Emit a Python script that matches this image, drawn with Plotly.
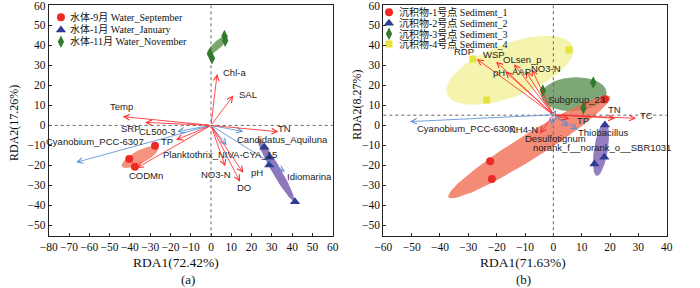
import numpy as np
import plotly.graph_objects as go

# ---------------- Panel (a): water samples ----------------
A_SEP_X = [-27.6, -40.3, -37.5]
A_SEP_Y = [-10.2, -16.8, -20.7]
A_JAN_X = [26.3, 28.7, 28.7, 41.4]
A_JAN_Y = [-11.0, -16.0, -19.8, -38.2]
A_NOV_X = [-0.5, 0.5, 6.6, 7.0]
A_NOV_Y = [35.7, 33.6, 44.7, 42.4]

A_ENV = ["Chl-a", "SAL", "Temp", "SRP", "TP", "CODMn", "NO3-N", "pH", "DO", "TN"]
A_ENV_X = [3.0, 11.0, -43.5, -32.5, -17.2, -36.6, 7.0, 15.9, 14.3, 33.2]
A_ENV_Y = [25.7, 14.9, 4.4, 1.5, -7.3, -21.3, -20.5, -23.7, -28.2, -3.2]

A_SPE = ["Cyanobium_PCC-6307", "CL500-3", "Planktothrix_NIVA-CYA_15",
         "Candidatus_Aquiluna", "Idiomarina"]
A_SPE_X = [-66.5, -16.6, 7.7, 15.9, 36.5]
A_SPE_Y = [-18.5, -3.1, -10.0, -3.1, -23.2]

# ---------------- Panel (b): sediment samples ----------------
B_S1_X = [18.2, -22.3, -21.7]
B_S1_Y = [13.1, -18.0, -26.8]
B_S2_X = [18.2, 14.5, 18.0]
B_S2_Y = [0.2, -19.3, -16.0]
B_S3_X = [-3.7, 14.1, 10.6]
B_S3_Y = [17.4, 21.4, 8.6]
B_S4_X = [-28.4, -23.5, 5.5]
B_S4_Y = [33.2, 12.7, 37.7]

B_ENV = ["RDP", "WSP", "OLsen_p", "NO3-N", "pH", "AAP", "TN", "TC", "TP", "NH4-N"]
B_ENV_X = [-27.0, -20.2, -13.9, -7.6, -17.0, -9.8, 21.8, 29.2, 5.6, -4.7]
B_ENV_Y = [33.2, 31.9, 30.6, 28.1, 27.0, 27.2, 3.55, 3.55, 3.2, -4.0]

B_SPE = ["Cyanobium_PCC-6307", "Subgroup_23", "Thiobacillus", "Desulfotignum",
         "norank_f__norank_o__SBR1031"]
B_SPE_X = [-50.6, 1.0, 8.6, -0.6, 5.3]
B_SPE_Y = [1.9, 7.7, -2.0, 0.2, -0.6]

B_ORIGIN = (0.0, 5.3)   # arrow origin in panel (b) as drawn

LEG_A = [("水体-9月", "Water_September"), ("水体-1月", "Water_January"),
         ("水体-11月", "Water_November")]
LEG_B = [("沉积物-1号点", "Sediment_1"), ("沉积物-2号点", "Sediment_2"),
         ("沉积物-3号点", "Sediment_3"), ("沉积物-4号点", "Sediment_4")]

# ---------------- styles / layout helpers ----------------
RED = "#ee2a24"
BLUE = "#2e3d92"
GREEN = "#2f7a2c"
YELLOW = "#e6e43c"
ARROW_RED = "#ff2a2a"
ARROW_BLUE = "#5b8fd6"
SERIF = "Liberation Serif"
SANS = "Liberation Sans"
LEGFONT = "Liberation Serif, Noto Sans CJK SC"

# label placements (layout, not data)
A_ENV_LAB = [(11.4, 26.4), (18.1, 15.6), (-43.9, 9.4), (-39.3, -1.4), (-21.7, -8.2),
             (-32.0, -25.2), (2.4, -24.8), (22.9, -23.8), (16.3, -31.0), (36.3, -1.5)]
A_SPE_LAB = [(-57.2, -8.2), (-26.8, -3.2), (4.4, -14.8), (35.4, -7.3), (48.5, -25.5)]
B_ENV_LAB = [(-31.4, 36.9), (-20.9, 35.7), (-10.9, 33.1), (-2.6, 28.6), (-19.2, 26.4),
             (-11.3, 26.9), (21.7, 8.1), (33.0, 4.9), (10.5, 2.2), (-10.4, -2.3)]
B_SPE_LAB = [(-30.7, -1.5), (8.1, 13.1), (17.5, -3.7), (0.8, -6.5), (17.3, -11.3)]

# ellipses: center, semi-diameter A, semi-diameter B (data units), colour
A_ELL = [((-35.0, -15.8), (8.9, 4.75), (1.5, -2.9), "rgba(242,128,105,0.85)"),
         ((32.0, -22.2), (8.9, -15.6), (1.9, 1.15), "rgba(130,105,180,0.9)"),
         ((3.2, 40.2), (5.0, 4.6), (1.3, -1.45), "rgba(110,160,90,0.9)")]
B_ELL = [((-15.3, 27.6), (22.2, 12.0), (3.35, -12.4), "rgba(238,236,120,0.6)"),
         ((7.3, 15.6), (11.5, 0.6), (0.0, 8.5), "rgba(70,130,60,0.7)"),
         ((-8.5, -10.8), (28.5, 25.2), (2.2, -5.4), "rgba(240,110,85,0.8)"),
         ((16.8, -11.9), (1.5, 13.4), (2.4, -0.55), "rgba(130,105,185,0.85)")]

fig = go.Figure()


def ellipse(c, a, b, color, xa, ya):
    t = np.linspace(0, 2 * np.pi, 120)
    xs = c[0] + a[0] * np.cos(t) + b[0] * np.sin(t)
    ys = c[1] + a[1] * np.cos(t) + b[1] * np.sin(t)
    fig.add_trace(go.Scatter(x=xs, y=ys, mode="lines", fill="toself",
                             fillcolor=color, line=dict(width=0),
                             xaxis=xa, yaxis=ya, hoverinfo="skip", showlegend=False))


for e in A_ELL:
    ellipse(*e, "x", "y")
for e in B_ELL:
    ellipse(*e, "x2", "y2")

# zero lines
for xr, yr, y0 in (("x", "y", 0.0), ("x2", "y2", 5.1)):
    fig.add_shape(type="line", xref=f"{xr} domain", yref=yr, x0=0, x1=1, y0=y0, y1=y0,
                  line=dict(color="#666", width=1, dash="dot"))
    fig.add_shape(type="line", xref=xr, yref=f"{yr} domain", x0=0, x1=0, y0=0, y1=1,
                  line=dict(color="#666", width=1, dash="dot"))


def arrows(xs, ys, labels, labpos, color, origin, xr, yr):
    for x, y in zip(xs, ys):
        fig.add_annotation(x=x, y=y, ax=origin[0], ay=origin[1], xref=xr, yref=yr,
                           axref=xr, ayref=yr, text="", showarrow=True,
                           arrowhead=5, arrowsize=1.3, arrowwidth=0.85,
                           arrowcolor=color, standoff=0, startstandoff=0)
    for lab, (lx, ly) in zip(labels, labpos):
        fig.add_annotation(x=lx, y=ly, xref=xr, yref=yr, text=lab, showarrow=False,
                           font=dict(family=SANS, size=9.5, color="#222"),
                           xanchor="center", yanchor="middle")


arrows(A_SPE_X, A_SPE_Y, A_SPE, A_SPE_LAB, ARROW_BLUE, (0, 0), "x", "y")
arrows(A_ENV_X, A_ENV_Y, A_ENV, A_ENV_LAB, ARROW_RED, (0, 0), "x", "y")
arrows(B_SPE_X, B_SPE_Y, B_SPE, B_SPE_LAB, ARROW_BLUE, B_ORIGIN, "x2", "y2")
arrows(B_ENV_X, B_ENV_Y, B_ENV, B_ENV_LAB, ARROW_RED, B_ORIGIN, "x2", "y2")


def pts(x, y, sym, color, size, xa, ya):
    fig.add_trace(go.Scatter(x=x, y=y, mode="markers", xaxis=xa, yaxis=ya,
                             marker=dict(symbol=sym, color=color, size=size,
                                         line=dict(width=0)),
                             showlegend=False, hoverinfo="skip"))


pts(A_SEP_X, A_SEP_Y, "circle", RED, 8, "x", "y")
pts(A_JAN_X, A_JAN_Y, "triangle-up", BLUE, 9, "x", "y")
pts(A_NOV_X, A_NOV_Y, "diamond-tall", GREEN, 9, "x", "y")
pts(B_S1_X, B_S1_Y, "circle", RED, 8, "x2", "y2")
pts(B_S2_X, B_S2_Y, "triangle-up", BLUE, 9, "x2", "y2")
pts(B_S3_X, B_S3_Y, "diamond-tall", GREEN, 9, "x2", "y2")
pts(B_S4_X, B_S4_Y, "square", YELLOW, 7, "x2", "y2")

# custom compact legends on overlay axes (0..1 fractions of each panel)
LEG_A_SYM = [("circle", RED, 8), ("triangle-up", BLUE, 9), ("diamond-tall", GREEN, 9)]
LEG_B_SYM = [("circle", RED, 8), ("triangle-up", BLUE, 9), ("diamond-tall", GREEN, 9),
             ("square", YELLOW, 7)]
LEG_A_POS = dict(mx=0.043, tx=0.069, ys=[0.949, 0.894, 0.843])
LEG_B_POS = dict(mx=0.020, tx=0.047, ys=[0.9705, 0.9229, 0.8778, 0.8332])

for items, syms, pos, xa, ya in ((LEG_A, LEG_A_SYM, LEG_A_POS, "x3", "y3"),
                                 (LEG_B, LEG_B_SYM, LEG_B_POS, "x4", "y4")):
    for (cn, en), (sym, col, sz), yy in zip(items, syms, pos["ys"]):
        pts([pos["mx"]], [yy], sym, col, sz, xa, ya)
        fig.add_annotation(x=pos["tx"], y=yy, xref=xa, yref=ya, showarrow=False,
                           text=f"{cn} {en}",
                           font=dict(family=LEGFONT, size=10, color="#111"),
                           xanchor="left", yanchor="middle")

# axis titles and panel tags
TITLES = [("RDA1(72.42%)", 0.251, 0.089, 0, 13.5), ("(a)", 0.269, 0.029, 0, 13),
          ("RDA1(71.63%)", 0.7476, 0.089, 0, 13.5), ("(b)", 0.7476, 0.031, 0, 13),
          ("RDA2(17.26%)", 0.020, 0.573, -90, 12), ("RDA2(8.27%)", 0.5096, 0.635, -90, 12)]
for txt, x, y, ang, sz in TITLES:
    fig.add_annotation(x=x, y=y, xref="paper", yref="paper", text=txt, showarrow=False,
                       textangle=ang, font=dict(family=SERIF, size=sz, color="#111"),
                       xanchor="center", yanchor="middle")

axis_common = dict(showline=True, mirror=True, linecolor="#222", linewidth=1,
                   ticks="inside", ticklen=3, tickcolor="#222", showgrid=False,
                   zeroline=False, dtick=10, tickangle=0, automargin=False,
                   tickfont=dict(family=SERIF, size=11.5, color="#111"))
Y_DOM = [0.1795, 0.981]
fig.update_layout(
    width=700, height=288, margin=dict(l=0, r=0, t=0, b=0, autoexpand=False),
    paper_bgcolor="white", plot_bgcolor="white", showlegend=False,
    xaxis=dict(domain=[0.0696, 0.4753], range=[-80, 60], anchor="y", **axis_common),
    yaxis=dict(domain=Y_DOM, range=[-55.5, 60], anchor="x", **axis_common),
    xaxis2=dict(domain=[0.5476, 0.9524], range=[-60, 40], anchor="y2", **axis_common),
    yaxis2=dict(domain=Y_DOM, range=[-55.5, 60], anchor="x2", **axis_common),
    xaxis3=dict(overlaying="x", range=[0, 1], visible=False, anchor="y3"),
    yaxis3=dict(overlaying="y", range=[0, 1], visible=False, anchor="x3"),
    xaxis4=dict(overlaying="x2", range=[0, 1], visible=False, anchor="y4"),
    yaxis4=dict(overlaying="y2", range=[0, 1], visible=False, anchor="x4"),
)

fig.write_html("out.html", config={"displayModeBar": False},
               post_script="document.body.style.margin='0';")
